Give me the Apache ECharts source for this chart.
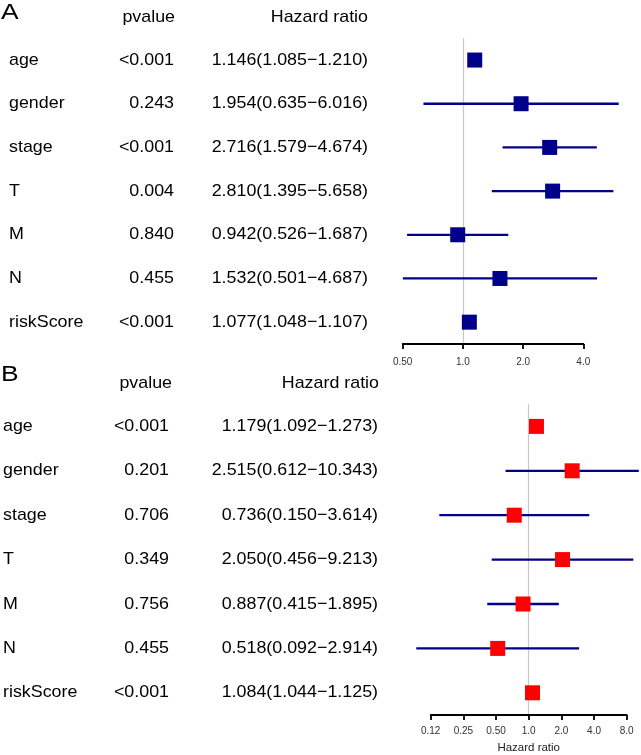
<!DOCTYPE html>
<html>
<head>
<meta charset="utf-8">
<script src="https://cdn.jsdelivr.net/npm/echarts@6/dist/echarts.min.js"></script>
<style>html,body{margin:0;padding:0;background:#fff}#c{width:641px;height:755px}</style>
</head>
<body>
<div id="c"></div>
<script>
const rows = ['age','gender','stage','T','M','N','riskScore'];

const pA  = ['<0.001','0.243','<0.001','0.004','0.840','0.455','<0.001'];
const hrA = [1.146, 1.954, 2.716, 2.810, 0.942, 1.532, 1.077];
const loA = [1.085, 0.635, 1.579, 1.395, 0.526, 0.501, 1.048];
const hiA = [1.210, 6.016, 4.674, 5.658, 1.687, 4.687, 1.107];

const pB  = ['<0.001','0.201','0.706','0.349','0.756','0.455','<0.001'];
const hrB = [1.179, 2.515, 0.736, 2.050, 0.887, 0.518, 1.084];
const loB = [1.092, 0.612, 0.150, 0.456, 0.415, 0.092, 1.044];
const hiB = [1.273, 10.343, 3.614, 9.213, 1.895, 2.914, 1.125];

const ticksA = [0.5, 1, 2, 4];
const tickLabelsA = ['0.50','1.0','2.0','4.0'];
const ticksB = [0.125, 0.25, 0.5, 1, 2, 4, 8];
const tickLabelsB = ['0.12','0.25','0.50','1.0','2.0','4.0','8.0'];

const FONT = '"Liberation Sans", Arial, sans-serif';
const SX = 1.05;
const fmt = v => v.toFixed(3);

function lookup(ticks, labels) {
  return function (v) {
    let best = 0, bd = Infinity;
    ticks.forEach((t, i) => { const d = Math.abs(Math.log(v) - Math.log(t)); if (d < bd) { bd = d; best = i; } });
    return bd < 1e-3 ? labels[best] : '';
  };
}

function ciSeries(gi, hr, lo, hi, boxColor) {
  return {
    type: 'custom', xAxisIndex: gi, yAxisIndex: gi, clip: false, z: 5,
    encode: { x: [0, 2, 3], y: 1 },
    data: hr.map((v, i) => [v, i, lo[i], hi[i]]),
    renderItem: function (params, api) {
      const c = api.coord([api.value(0), api.value(1)]);
      const l = api.coord([api.value(2), api.value(1)]);
      const h = api.coord([api.value(3), api.value(1)]);
      const s = 15;
      return {
        type: 'group',
        children: [
          { type: 'line', shape: { x1: l[0], y1: c[1], x2: h[0], y2: c[1] },
            style: { stroke: '#00008B', lineWidth: 2.3 } },
          { type: 'rect', shape: { x: c[0] - s / 2, y: c[1] - s / 2, width: s, height: s },
            style: { fill: boxColor } }
        ]
      };
    }
  };
}

function textSeries(gi, p, hr, lo, hi, xName, xP, xHR) {
  return {
    type: 'custom', xAxisIndex: gi, yAxisIndex: gi, clip: false, z: 3, silent: true,
    encode: { x: 0, y: 1 },
    data: rows.map((r, i) => [1, i]),
    renderItem: function (params, api) {
      const i = params.dataIndex;
      const y = api.coord([1, api.value(1)])[1];
      const st = { font: '17px ' + FONT, fill: '#000', verticalAlign: 'middle' };
      return {
        type: 'group',
        children: [
          { type: 'text', x: xName, y: y, scaleX: SX, style: Object.assign({}, st, { text: rows[i], align: 'left' }) },
          { type: 'text', x: xP, y: y, scaleX: SX, style: Object.assign({}, st, { text: p[i], align: 'right' }) },
          { type: 'text', x: xHR, y: y, scaleX: SX, style: Object.assign({}, st,
            { text: fmt(hr[i]) + '(' + fmt(lo[i]) + '\u2212' + fmt(hi[i]) + ')', align: 'right' }) }
        ]
      };
    }
  };
}

function refSeries(gi) {
  return {
    type: 'line', xAxisIndex: gi, yAxisIndex: gi, data: [], z: 0, silent: true,
    markLine: { silent: true, symbol: 'none', label: { show: false }, z: 0,
      lineStyle: { color: '#c8c8c8', width: 1.2, type: 'solid' },
      data: [{ xAxis: 1 }] }
  };
}

function header(letter, yL, yH, xP, xHR) {
  const st = { font: '17px ' + FONT, fill: '#000', verticalAlign: 'middle' };
  return [
    { type: 'text', x: 1, y: yL, scaleX: 1.2, style: { text: letter, font: '22px ' + FONT, fill: '#000', verticalAlign: 'middle', align: 'left' } },
    { type: 'text', x: xP, y: yH, scaleX: SX, style: Object.assign({}, st, { text: 'pvalue', align: 'right' }) },
    { type: 'text', x: xHR, y: yH, scaleX: SX, style: Object.assign({}, st, { text: 'Hazard ratio', align: 'right' }) }
  ];
}

function xAxisCfg(gi, min, max, ticks, labels, margin, name) {
  return {
    gridIndex: gi, type: 'log', logBase: 2, min: min, max: max, interval: 1,
    axisLine: { show: true, onZero: false, lineStyle: { color: '#000', width: 1.8 } },
    axisTick: { show: true, length: 5, lineStyle: { color: '#000', width: 1.8 } },
    splitLine: { show: false },
    axisLabel: { fontFamily: FONT, fontSize: 10, color: '#333', margin: margin, formatter: lookup(ticks, labels) },
    name: name || '', nameLocation: 'middle', nameGap: 27,
    nameTextStyle: { fontFamily: FONT, fontSize: 11.5, color: '#222' }
  };
}

function yAxisCfg(gi) {
  return { gridIndex: gi, type: 'category', data: rows, inverse: true, show: false, boundaryGap: true };
}

const chart = echarts.init(document.getElementById('c'), null, { renderer: 'canvas' });
chart.setOption({
  backgroundColor: '#fff',
  animation: false,
  grid: [
    { left: 402.7, right: 57.7, top: 38.2, height: 305.8 },
    { left: 430.7, right: 14.3, top: 404.2, height: 315.5 }
  ],
  xAxis: [
    xAxisCfg(0, 0.5, 4, ticksA, tickLabelsA, 13),
    xAxisCfg(1, 0.125, 8, ticksB, tickLabelsB, 11, 'Hazard ratio')
  ],
  yAxis: [yAxisCfg(0), yAxisCfg(1)],
  graphic: header('A', 13, 17, 175, 368).concat(header('B', 375, 383, 172, 379)),
  series: [
    refSeries(0),
    ciSeries(0, hrA, loA, hiA, '#00008B'),
    textSeries(0, pA, hrA, loA, hiA, 9, 174, 368),
    refSeries(1),
    ciSeries(1, hrB, loB, hiB, '#FF0000'),
    textSeries(1, pB, hrB, loB, hiB, 3, 169, 378)
  ]
});
</script>
</body>
</html>
